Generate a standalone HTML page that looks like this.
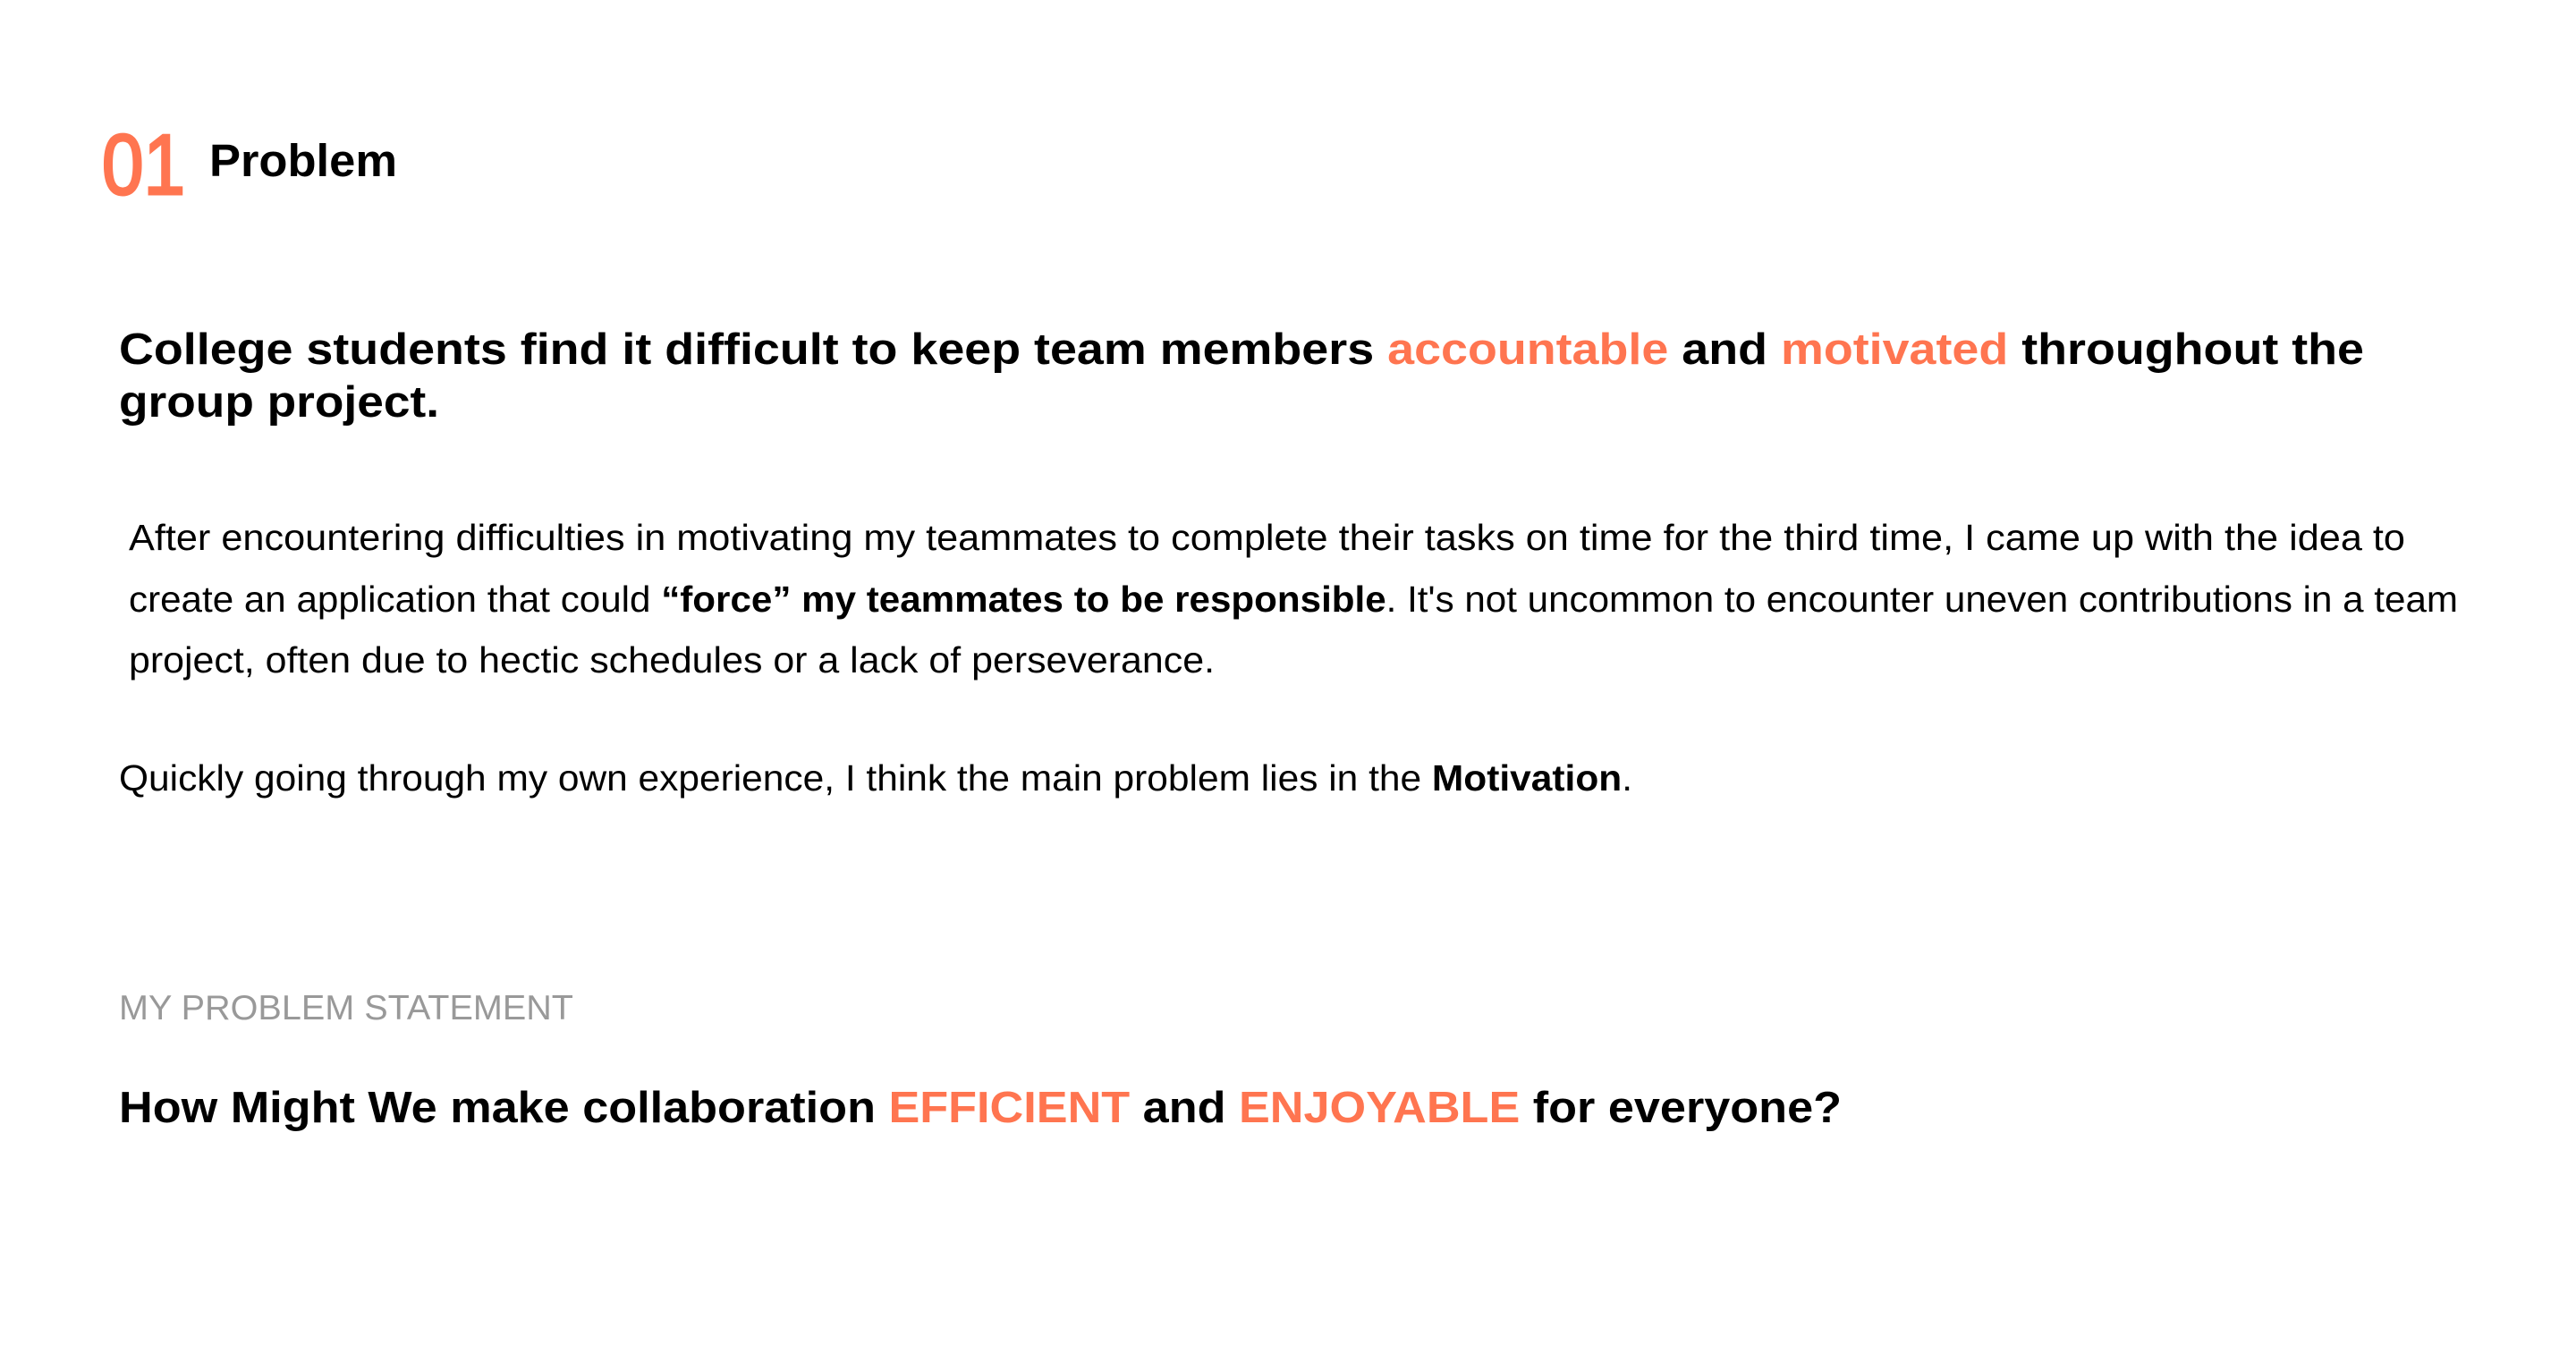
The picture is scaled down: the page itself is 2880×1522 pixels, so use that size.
<!DOCTYPE html>
<html><head><meta charset="utf-8">
<style>
html,body{margin:0;padding:0;background:#fff;}
body{width:2880px;height:1522px;position:relative;overflow:hidden;font-family:"Liberation Sans",sans-serif;color:#000;}
.l{position:absolute;white-space:nowrap;line-height:1;transform-origin:0 0;}
.o{color:#FF7550;}
b{font-weight:700;}
</style></head><body>
<div class="l" data-w="93" style="left:114px;top:137px;font-size:96px;color:#FF7550;-webkit-text-stroke:3px #FF7550;">01</div>
<div class="l" data-w="210" style="left:234px;top:154px;font-size:51px;font-weight:700;">Problem</div>

<div class="l" data-w="2510" style="left:133px;top:367px;font-size:49px;font-weight:700;">College students find it difficult to keep team members <span class="o">accountable</span> and <span class="o">motivated</span> throughout the</div>
<div class="l" data-w="358" style="left:133px;top:426px;font-size:49px;font-weight:700;">group project.</div>

<div class="l" data-w="2545" style="left:144px;top:581px;font-size:41px;">After encountering difficulties in motivating my teammates to complete their tasks on time for the third time, I came up with the idea to</div>
<div class="l" data-w="2604" style="left:144px;top:650px;font-size:41px;">create an application that could <b>“force” my teammates to be responsible</b>. It's not uncommon to encounter uneven contributions in a team</div>
<div class="l" data-w="1214" style="left:144px;top:718px;font-size:41px;">project, often due to hectic schedules or a lack of perseverance.</div>

<div class="l" data-w="1692" style="left:133px;top:850px;font-size:41px;">Quickly going through my own experience, I think the main problem lies in the <b>Motivation</b>.</div>

<div class="l" data-w="508" style="left:133px;top:1108px;font-size:39px;color:#999;">MY PROBLEM STATEMENT</div>

<div class="l" data-w="1926" style="left:133px;top:1215px;font-size:49px;font-weight:700;">How Might We make collaboration <span class="o">EFFICIENT</span> and <span class="o">ENJOYABLE</span> for everyone?</div>

<script>
document.querySelectorAll('.l').forEach(function(el){
  var w=el.getBoundingClientRect().width;
  var t=parseFloat(el.getAttribute('data-w'));
  if(w>0&&t>0){el.style.transform='scaleX('+(t/w)+')';}
});
</script>
</body></html>
